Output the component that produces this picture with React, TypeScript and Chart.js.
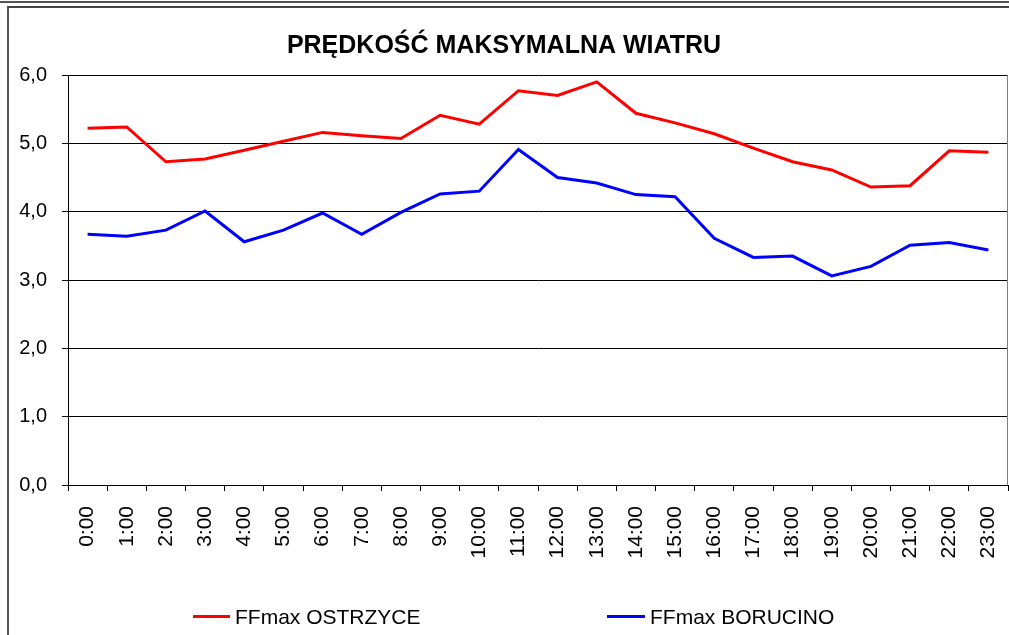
import React, { useEffect, useRef } from "react";
import { Chart, registerables } from "chart.js";

Chart.register(...registerables);

const TITLE = "PRĘDKOŚĆ MAKSYMALNA WIATRU";
const HOURS = [
  "0:00", "1:00", "2:00", "3:00", "4:00", "5:00", "6:00", "7:00", "8:00", "9:00", "10:00", "11:00",
  "12:00", "13:00", "14:00", "15:00", "16:00", "17:00", "18:00", "19:00", "20:00", "21:00", "22:00", "23:00",
];
const SERIES_NAMES = ["FFmax OSTRZYCE", "FFmax BORUCINO"];
const OSTRZYCE = [
  5.22, 5.24, 4.73, 4.77, 4.9, 5.03, 5.16, 5.11, 5.07, 5.41, 5.28, 5.77,
  5.7, 5.9, 5.44, 5.3, 5.14, 4.93, 4.73, 4.61, 4.36, 4.38, 4.89, 4.87,
];
const BORUCINO = [
  3.67, 3.64, 3.73, 4.01, 3.56, 3.73, 3.98, 3.67, 3.99, 4.26, 4.3, 4.91,
  4.5, 4.42, 4.25, 4.22, 3.61, 3.33, 3.35, 3.06, 3.2, 3.51, 3.55, 3.44,
];
const Y_MIN = 0;
const Y_MAX = 6;
const Y_STEP = 1;

const FONT = "'Liberation Sans', Arial, sans-serif";

const rightBorderPlugin = {
  id: "rightBorder",
  afterDraw(chart: any) {
    const { ctx, chartArea } = chart;
    ctx.save();
    ctx.strokeStyle = "#808080";
    ctx.lineWidth = 1;
    ctx.beginPath();
    ctx.moveTo(chartArea.right - 0.5, chartArea.top);
    ctx.lineTo(chartArea.right - 0.5, chartArea.bottom);
    ctx.stroke();
    ctx.restore();
  },
};

export default function App() {
  const ref = useRef<HTMLCanvasElement>(null);

  useEffect(() => {
    if (!ref.current) return;
    const chart = new Chart(ref.current, {
      type: "line",
      data: {
        labels: HOURS,
        datasets: [
          {
            label: SERIES_NAMES[0],
            data: OSTRZYCE,
            borderColor: "#FF0000",
            backgroundColor: "#FF0000",
            borderWidth: 3,
            pointRadius: 0,
            tension: 0,
          },
          {
            label: SERIES_NAMES[1],
            data: BORUCINO,
            borderColor: "#0000FF",
            backgroundColor: "#0000FF",
            borderWidth: 3,
            pointRadius: 0,
            tension: 0,
          },
        ],
      },
      options: {
        animation: false,
        responsive: false,
        maintainAspectRatio: false,
        layout: { padding: { left: 0, right: 1, top: 0, bottom: 0 } },
        plugins: {
          legend: { display: false },
          tooltip: { enabled: false },
          title: {
            display: true,
            text: TITLE,
            color: "#000",
            font: { family: FONT, size: 25, weight: "bold" },
            padding: { top: 31, bottom: 14 },
          },
        },
        scales: {
          x: {
            type: "category",
            offset: true,
            grid: {
              offset: true,
              drawOnChartArea: false,
              drawTicks: true,
              tickLength: 6,
              color: "#000",
              lineWidth: 1,
            },
            border: { display: true, color: "#000", width: 1 },
            ticks: {
              color: "#000",
              font: { family: FONT, size: 21 },
              minRotation: 90,
              maxRotation: 90,
              padding: 15,
              autoSkip: false,
            },
            afterFit(scale: any) {
              scale.height = 150;
              scale.paddingLeft = 0;
              scale.paddingRight = 0;
            },
          },
          y: {
            min: Y_MIN,
            max: Y_MAX,
            grid: {
              color: "#000",
              lineWidth: 1,
              drawTicks: true,
              tickLength: 6,
            },
            border: { display: true, color: "#000", width: 1 },
            ticks: {
              stepSize: Y_STEP,
              color: "#000",
              font: { family: FONT, size: 20 },
              padding: 15,
              callback: (v: any) => Number(v).toFixed(1).replace(".", ","),
            },
            afterFit(scale: any) {
              scale.width = 68;
            },
          },
        },
      },
      plugins: [rightBorderPlugin],
    });
    return () => chart.destroy();
  }, []);

  const legendText: React.CSSProperties = {
    position: "absolute",
    top: 606,
    fontFamily: FONT,
    fontSize: 21,
    lineHeight: "21px",
    color: "#000",
    whiteSpace: "nowrap",
  };

  return (
    <div style={{ position: "absolute", left: 0, top: 0, width: 1009, height: 635, overflow: "hidden", background: "#fff" }}>
      <div style={{ position: "absolute", left: 0, top: 1, width: 1009, height: 2, background: "#555" }} />
      <div
        style={{
          position: "absolute",
          left: 7,
          top: 6,
          width: 1009,
          height: 640,
          borderTop: "2px solid #444",
          borderLeft: "2px solid #555",
          boxSizing: "border-box",
        }}
      />
      <canvas ref={ref} width={1009} height={635} style={{ position: "absolute", left: 0, top: 0, width: 1009, height: 635 }} />
      <div style={{ position: "absolute", left: 193, top: 615, width: 37, height: 3, background: "#FF0000" }} />
      <div style={{ ...legendText, left: 235 }}>{SERIES_NAMES[0]}</div>
      <div style={{ position: "absolute", left: 607, top: 615, width: 38, height: 3, background: "#0000FF" }} />
      <div style={{ ...legendText, left: 650 }}>{SERIES_NAMES[1]}</div>
    </div>
  );
}
